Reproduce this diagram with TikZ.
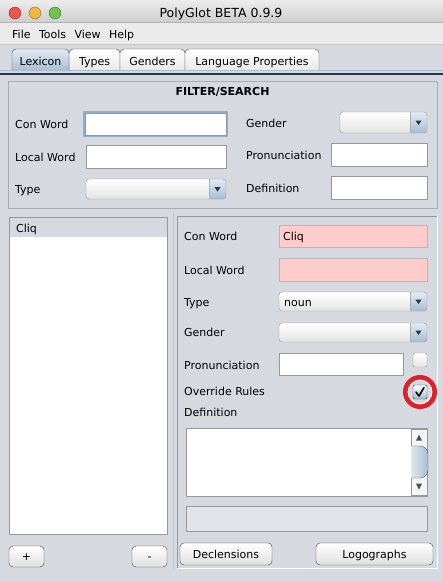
\documentclass[tikz,border=0pt]{standalone}
\usepackage{fontspec}
\setmainfont{DejaVu Sans}
\usepackage{xcolor}
\usepackage{tikz}
\usetikzlibrary{positioning}

\definecolor{winbg}{RGB}{214,217,223}
\definecolor{menubg}{RGB}{234,234,234}
\definecolor{titletop}{RGB}{236,236,236}
\definecolor{titlebot}{RGB}{206,206,206}
\definecolor{rimgray}{RGB}{150,152,156}
\definecolor{pinkfld}{RGB}{255,204,204}
\definecolor{focusblue}{RGB}{140,176,212}
\definecolor{tabtop}{RGB}{226,235,243}
\definecolor{tabblue}{RGB}{166,189,209}
\definecolor{ringred}{RGB}{226,30,40}
\definecolor{navy}{RGB}{40,52,70}
\definecolor{lightred}{RGB}{236,84,78}
\definecolor{lightorange}{RGB}{240,182,62}
\definecolor{lightgreen}{RGB}{112,192,82}

\newcommand{\uifont}{\fontsize{11}{13}\selectfont}
\newcommand{\titlefont}{\fontsize{12.5}{14}\selectfont}

\begin{document}
\begin{tikzpicture}[x=1pt,y=-1pt,line join=round,
  lbl/.style={anchor=base west,inner sep=0pt,font=\uifont},
  fld/.style={draw=rimgray,fill=white},
  tab/.style={draw=gray!60!black,rounded corners=4pt,top color=white,bottom color=gray!18},
  btn/.style={draw=gray!55!black,rounded corners=4pt,top color=white,bottom color=gray!25,
    font=\uifont,inner sep=0pt,text height=8pt,text depth=0pt},
  light/.style={circle,inner sep=0pt,minimum size=12pt}]
\useasboundingbox (0,0) rectangle (443,582);
\fill[winbg] (0,0) rectangle (443,582);

% title bar and menu
\shade[top color=titletop,bottom color=titlebot] (0,0) rectangle (443,22);
\draw[gray!60] (0,22.5) -- (443,22.5);
\fill[menubg] (0,23) rectangle (443,44);
\draw[gray!45] (0,44) -- (443,44);
\node[light,fill=lightred,draw=lightred!60!black] (close) at (15,13) {};
\node[light,fill=lightorange,draw=lightorange!60!black] (mini) at (35,13) {};
\node[light,fill=lightgreen,draw=lightgreen!60!black] (zoom) at (55,13) {};
\node[font=\titlefont,anchor=base,inner sep=0pt] (title) at (221,17) {PolyGlot BETA 0.9.9};
\node[lbl] (mFile) at (12,38) {File};
\node[lbl,base right=8pt of mFile] (mTools) {Tools};
\node[lbl,base right=8pt of mTools] (mView) {View};
\node[lbl,base right=8pt of mView] (mHelp) {Help};

% tabs
\foreach \xa/\xb in {69/120,120/185,185/319}
  \draw[tab] (\xa,71) |- (\xb,49) -- (\xb,71);
\draw[tab,top color=tabtop,bottom color=tabblue] (12,71) |- (69,49) -- (69,71);
\draw[tabblue] (0,70.5) -- (443,70.5);
\draw[navy,line width=1.2] (0,74) -- (443,74);
\node[lbl,anchor=base] (tLex) at (40.5,65.5) {Lexicon};
\node[lbl,anchor=base] (tTypes) at (94.5,65.5) {Types};
\node[lbl,anchor=base] (tGend) at (152.5,65.5) {Genders};
\node[lbl,anchor=base] (tLang) at (252,65.5) {Language Properties};

% filter panel
\draw[gray!65] (8,81) rectangle (437,208);
\node[font=\uifont\bfseries,anchor=base,inner sep=0pt] (fTitle) at (222.5,95) {FILTER/SEARCH};
\draw[focusblue,line width=2.2] (84,112) rectangle (227,136);
\draw[fld] (85,113) rectangle (226,135);
\draw[fld] (86,145) rectangle (226,168);
\draw[fld] (331,143) rectangle (427,166);
\draw[fld] (331,176) rectangle (427,199);

% word list
\draw[rimgray,fill=white] (9,217) rectangle (167,534);
\fill[winbg] (9.5,217.5) rectangle (166.5,237);
\draw[gray!45] (173.5,213) -- (173.5,569);

% word editor
\draw[white] (437,216) -- (437,568) -- (177,568);
\draw[rimgray] (177,568) -- (177,216) -- (437,216);
\draw[fld,draw=rimgray!70,fill=pinkfld] (279,225) rectangle (427,247);
\draw[fld,draw=rimgray!70,fill=pinkfld] (279,258) rectangle (427,281);
\draw[fld] (279,353) rectangle (403,375);
\draw[fld] (186,428) rectangle (427,496);
\draw[rimgray,fill=winbg!70!white] (186,506) rectangle (427,531);

% combo boxes
\foreach \xa/\ya/\xb/\yb in {86/179/226/199,340/112/427/133,279/292/427/311,279/323/427/342}{
  \begin{scope}
    \clip[rounded corners=3pt] (\xa,\ya) rectangle (\xb,\yb);
    \shade[top color=white,bottom color=gray!22] (\xa,\ya) rectangle (\xb,\yb);
    \shade[top color=tabtop,bottom color=tabblue] ({\xb-17},\ya) rectangle (\xb,\yb);
  \end{scope}
  \draw[rimgray,rounded corners=3pt] (\xa,\ya) rectangle (\xb,\yb);
  \draw[rimgray!80] ({\xb-17},\ya) -- ({\xb-17},\yb);
  \fill[navy] ({\xb-11.5},{(\ya+\yb)/2-2}) -- ++(6,0) -- ++(-3,4.5) -- cycle;
}

% check boxes and the red ring
\draw[ringred,line width=5] (420,392) circle[radius=14.5];
\draw[white,line width=0.8] (420,392) circle[radius=12];
\draw[rimgray,rounded corners=2pt,top color=white,bottom color=gray!20] (413,353) rectangle (427,367);
\draw[navy,rounded corners=2pt,top color=white,bottom color=tabblue] (413,385) rectangle (427,399);
\draw[black,line width=1.6,line cap=round] (416,392) -- (419,396) -- (424,387.5);

% scroll bar
\draw[rimgray,fill=gray!8] (411,429) rectangle (427,495);
\begin{scope}
  \clip (411,440) rectangle (430,482);
  \draw[gray!70!black,left color=white,right color=tabblue,rounded corners=8pt] (402,446) rectangle (428,478);
\end{scope}
\fill[navy!85] (416,440.5) -- (422,440.5) -- (419,434.5) -- cycle;
\fill[navy!85] (416,483.5) -- (422,483.5) -- (419,489.5) -- cycle;

% labels
\node[lbl] (fCon) at (15,128) {Con Word};
\node[lbl] (fLoc) at (15,161) {Local Word};
\node[lbl] (fType) at (15,193) {Type};
\node[lbl] (fGen) at (246,127) {Gender};
\node[lbl] (fPro) at (246,159) {Pronunciation};
\node[lbl] (fDef) at (246,192) {Definition};
\node[lbl] (wCliq) at (16,232.5) {Cliq};
\node[lbl] (eCon) at (184,240.5) {Con Word};
\node[lbl] (eConVal) at (283,240.5) {Cliq};
\node[lbl] (eLoc) at (184,274) {Local Word};
\node[lbl] (eType) at (184,306) {Type};
\node[lbl] (eTypeVal) at (284,306) {noun};
\node[lbl] (eGen) at (184,336.5) {Gender};
\node[lbl] (ePro) at (184,369) {Pronunciation};
\node[lbl] (eOver) at (184,395.5) {Override Rules};
\node[lbl] (eDef) at (184,416.5) {Definition};

% buttons
\node[btn,minimum width=35pt,minimum height=21pt] (bAdd) at (26.5,556.5) {+};
\node[btn,minimum width=35pt,minimum height=21pt] (bDel) at (149.5,556.5) {-};
\node[btn,minimum width=92pt,minimum height=22pt] (bDecl) at (226,554) {Declensions};
\node[btn,minimum width=117pt,minimum height=22pt] (bLogo) at (374.5,554) {Logographs};
\end{tikzpicture}
\end{document}
